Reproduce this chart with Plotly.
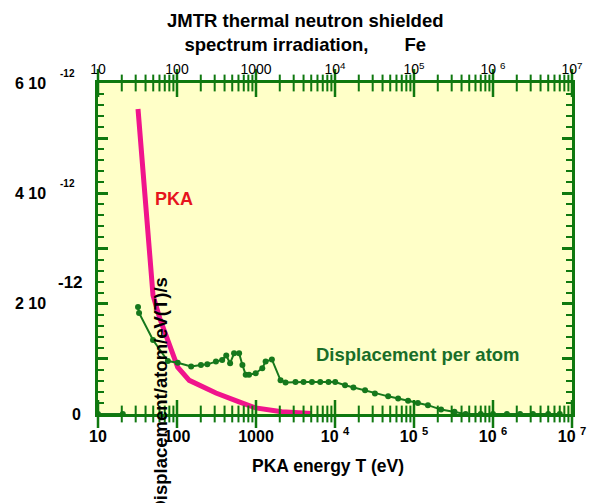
import plotly.graph_objects as go

# PKA spectrum (units of 1e-12 per eV per s)
pka_energy = [32.1, 41.0, 49.7, 60.3, 73.1, 102, 143, 311, 611, 991, 2120, 5060]
pka_rate = [5.53, 3.72, 2.15, 1.74, 1.41, 0.85, 0.61, 0.38, 0.22, 0.11, 0.04, 0.01]

# Displacement per atom (units of 1e-12)
dpa_energy = [10, 20.6, None, 32.1, 33.1, 49.7, 76.6, 102, 151, 201, 242, 311, 373, 420, 470,
              528, 611, 673, 741, 816, 991, 1200, 1324, 1589, 2046, 2366, 3162, 4000, 5108,
              6500, 8280, 10070, 13400, 17100, 24000, 32000, 47100, 63000, 84100, 112000,
              150000, 220000, 325000, 450000, 700000, 1.0e6, 1.5e6, 2.2e6, 3.2e6, 5.0e6, 7.0e6]
dpa_rate = [0, 0, None, 1.94, 1.83, 1.34, 0.96, 0.93, 0.86, 0.89, 0.90, 0.95, 0.98, 1.06, 0.92,
            1.10, 1.10, 0.89, 0.71, 0.71, 0.74, 0.83, 0.95, 0.99, 0.61, 0.57, 0.58, 0.58, 0.58,
            0.58, 0.58, 0.58, 0.52, 0.48, 0.43, 0.37, 0.32, 0.28, 0.24, 0.20,
            0.16, 0.08, 0.04, 0, 0, 0, 0, 0, 0, 0, 0]

x_tickvals = [10, 100, 1000, 1e4, 1e5, 1e6, 1e7]
x_bottom_text = ["<b>10</b>", "<b>100</b>", "<b>1000</b>", "<b>10 <sup>4</sup></b>",
                 "<b>10 <sup>5</sup></b>", "<b>10 <sup>6</sup></b>", "<b>10 <sup>7</sup></b>"]
x_top_text = ["10", "100", "1000", "10<sup>4</sup>", "10<sup>5</sup>", "10 <sup>6</sup>", "10<sup>7</sup>"]
minor_mult = [2, 3, 4, 5, 6, 7, 8, 9]
y_label_vals = [6, 4, 2, 0]
y_label_main = ["6 10", "4 10", "2 10", "0"]
y_label_exp = ["-12", "-12", "-12", ""]

Y_MIN, Y_MAX = 0, 6
PX_PER_UNIT = 331 / (Y_MAX - Y_MIN)
x_minor_vals = [m * d for d in x_tickvals[:-1] for m in minor_mult]

AXIS_GREEN = "rgb(15,120,15)"
CURVE_GREEN = "rgb(22,120,28)"
TEXT_GREEN = "rgb(25,110,40)"
PINK = "rgb(240,20,140)"
FONT = "Liberation Sans, Arial, sans-serif"

fig = go.Figure()
fig.add_trace(go.Scatter(x=pka_energy, y=pka_rate, mode="lines",
                         line=dict(color=PINK, width=5), showlegend=False, cliponaxis=False))
fig.add_trace(go.Scatter(x=dpa_energy, y=dpa_rate, mode="lines+markers",
                         line=dict(color=CURVE_GREEN, width=2),
                         marker=dict(color=CURVE_GREEN, size=6),
                         showlegend=False, cliponaxis=False, connectgaps=False))

# x-axis tick marks as vertical-line markers placed through the axis scale
for vals, ln in [(x_tickvals, 20), (x_minor_vals, 12)]:
    for yv in [Y_MIN, Y_MAX]:
        fig.add_trace(go.Scatter(
            x=vals, y=[yv] * len(vals), mode="markers", cliponaxis=False,
            marker=dict(symbol="line-ns", size=ln,
                        line=dict(color=AXIS_GREEN, width=2.5 if ln == 20 else 2)),
            showlegend=False, hoverinfo="skip"))

# invisible trace to activate the top axis
fig.add_trace(go.Scatter(x=[10, 1e7], y=[0, 0], xaxis="x2", mode="markers",
                         marker=dict(opacity=0), showlegend=False, hoverinfo="skip"))

base = dict(type="log", range=[1, 7], showline=True, linecolor=AXIS_GREEN, linewidth=3,
            ticks="", showgrid=False, zeroline=False)

fig.update_layout(
    width=598, height=503,
    margin=dict(l=98, r=23, t=83, b=89),
    paper_bgcolor="white",
    plot_bgcolor="rgb(255,255,200)",
    font=dict(family=FONT, color="black"),
    xaxis=dict(tickvals=x_tickvals, ticktext=x_bottom_text,
               tickfont=dict(size=16, family=FONT), ticklabelstandoff=6, **base),
    xaxis2=dict(overlaying="x", side="top", anchor="y", tickvals=x_tickvals,
                ticktext=x_top_text, tickfont=dict(size=14, family=FONT), **base),
    yaxis=dict(range=[Y_MIN, Y_MAX], dtick=1, showticklabels=False, mirror="ticks",
               showline=True, linecolor=AXIS_GREEN, linewidth=3, ticks="inside",
               tickcolor=AXIS_GREEN, tickwidth=2.5, ticklen=10, showgrid=False, zeroline=False,
               minor=dict(ticks="inside", ticklen=6, tickcolor=AXIS_GREEN, tickwidth=2,
                          dtick=0.2, showgrid=False)),
)

ann = []
for v, main, exp in zip(y_label_vals, y_label_main, y_label_exp):
    if main == "0":
        ann.append(dict(x=-0.032, y=v, xref="paper", yref="y", text="<b>0</b>",
                        showarrow=False, xanchor="right", yanchor="middle",
                        font=dict(size=16)))
        continue
    ann.append(dict(x=-0.105, y=v, xref="paper", yref="y", text="<b>" + main + "</b>",
                    showarrow=False, xanchor="right", yanchor="middle", font=dict(size=16)))
    if v == 2:
        ann.append(dict(x=-0.088, y=v, xref="paper", yref="y", text="<b>" + exp + "</b>",
                        showarrow=False, xanchor="left", yanchor="middle", yshift=21,
                        font=dict(size=17)))
    else:
        ann.append(dict(x=-0.085, y=v, xref="paper", yref="y", text="<b>" + exp + "</b>",
                        showarrow=False, xanchor="left", yanchor="middle", yshift=10,
                        font=dict(size=10)))

ann += [
    dict(x=0.438, y=1.0, xref="paper", yref="paper", yshift=26,
         text="<b>JMTR thermal neutron shielded<br>spectrum irradiation,       Fe</b>",
         showarrow=False, xanchor="center", yanchor="bottom", font=dict(size=18.5)),
    dict(x=0.485, y=0, xref="paper", yref="paper", yshift=-52,
         text="<b>PKA energy T (eV)</b>", showarrow=False, xanchor="center",
         yanchor="middle", font=dict(size=17.5)),
    dict(x=0.132, y=0.417, xref="paper", yref="paper", xanchor="center", yanchor="top",
         text="<b>Displacement/atom/eV(T)/s</b>", textangle=-90, showarrow=False,
         font=dict(size=18.5)),
    dict(x=1.968, y=3.9, xref="x", yref="y", text="<b>PKA</b>", showarrow=False,
         xanchor="center", yanchor="middle", font=dict(size=18, color="rgb(230,20,30)")),
    dict(x=5.05, y=1.07, xref="x", yref="y", text="<b>Displacement per atom</b>",
         showarrow=False, xanchor="center", yanchor="middle",
         font=dict(size=18.5, color=TEXT_GREEN)),
]
fig.update_layout(annotations=ann)

fig.write_html("out.html")
